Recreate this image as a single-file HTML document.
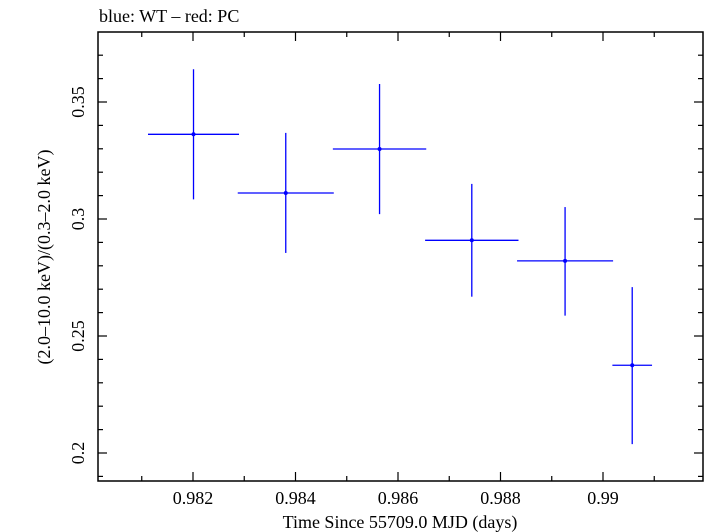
<!DOCTYPE html>
<html><head><meta charset="utf-8"><style>
html,body{margin:0;padding:0;background:#fff;}
svg{display:block;font-family:"Liberation Serif",serif;}
</style></head><body>
<svg id="chart" width="705" height="532" viewBox="0 0 705 532">
<text x="99" y="22" font-size="18" fill="#000">blue: WT – red: PC</text>
<g id="axes"></g>
<g id="series"></g>
<text x="400" y="528" font-size="18" text-anchor="middle">Time Since 55709.0 MJD (days)</text>
<text transform="translate(50,257) rotate(-90)" font-size="18" text-anchor="middle">(2.0–10.0 keV)/(0.3–2.0 keV)</text>
</svg>
<script>
const xs = [0.98201, 0.98381, 0.98564, 0.98744, 0.98926, 0.99057];
const xerr = [0.000888, 0.000937, 0.000911, 0.000911, 0.000937, 0.000387];
const ys = [0.3362, 0.3111, 0.3299, 0.2909, 0.2821, 0.2375];
const yhi = [0.3640, 0.3368, 0.3577, 0.3150, 0.3051, 0.2709];
const ylo = [0.3084, 0.2855, 0.3021, 0.2668, 0.2587, 0.2038];
const xTicks = [0.982, 0.984, 0.986, 0.988, 0.990];
const xTickLabels = ["0.982", "0.984", "0.986", "0.988", "0.99"];
const yTicks = [0.2, 0.25, 0.3, 0.35];
const yTickLabels = ["0.2", "0.25", "0.3", "0.35"];

const L=98,R=703,T=32,B=481;
const X=v=>193+(v-0.982)*51250;
const Y=v=>102-(v-0.35)*2340;
const NS="http://www.w3.org/2000/svg";
function mk(tag,attrs,parent){const e=document.createElementNS(NS,tag);for(const k in attrs)e.setAttribute(k,attrs[k]);parent.appendChild(e);return e;}
const axes=document.getElementById('axes');
const frame=mk('rect',{x:L,y:T,width:R-L,height:B-T,fill:'none',stroke:'#000','stroke-width':1.5},axes);


for(let i=-1;i<=11;i++){const v=0.981+i*0.001;const px=X(v);if(px<=L||px>=R)continue;
 const major=Math.abs(Math.round(v*1000)%2)===0;const len=major?9:5;
 const t1=mk('line',{x1:px,y1:B,x2:px,y2:B-len,stroke:'#000','stroke-width':1.2},axes);
 
 
 const t2=mk('line',{x1:px,y1:T,x2:px,y2:T+len,stroke:'#000','stroke-width':1.2},axes);
 
 }
xTicks.forEach((v,i)=>{const t=mk('text',{x:X(v),y:504,'font-size':18,'text-anchor':'middle'},axes);t.textContent=xTickLabels[i];
 
 });
for(let i=0;i<=20;i++){const v=0.18+i*0.01;const py=Y(v);if(py<=T||py>=B)continue;
 const major=Math.round(v*100)%5===0;const len=major?9:5;
 const t1=mk('line',{x1:L,y1:py,x2:L+len,y2:py,stroke:'#000','stroke-width':1.2},axes);
 
 
 const t2=mk('line',{x1:R,y1:py,x2:R-len,y2:py,stroke:'#000','stroke-width':1.2},axes);
 
 }
yTicks.forEach((v,i)=>{const t=mk('text',{transform:`translate(84,${Y(v)}) rotate(-90)`,'font-size':18,'text-anchor':'middle'},axes);t.textContent=yTickLabels[i];
 
 });
const ser=document.getElementById('series');
xs.forEach((v,i)=>{const g=mk('g',{},ser);
 
 
 mk('line',{x1:X(v-xerr[i]),y1:Y(ys[i]),x2:X(v+xerr[i]),y2:Y(ys[i]),stroke:'#0000ff','stroke-width':1.3},g);
 mk('line',{x1:X(v),y1:Y(yhi[i]),x2:X(v),y2:Y(ylo[i]),stroke:'#0000ff','stroke-width':1.3},g);
 mk('circle',{cx:X(v),cy:Y(ys[i]),r:2,fill:'#0000ff'},g);});
</script>
</body></html>
